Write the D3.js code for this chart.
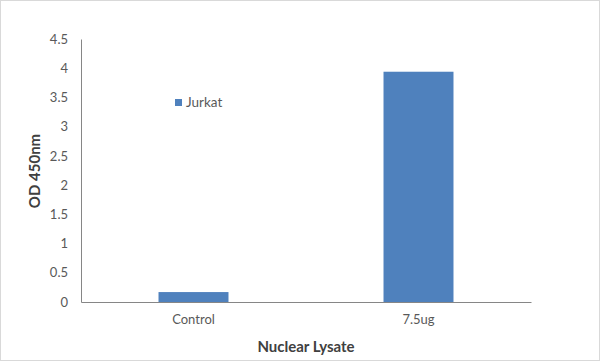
<!DOCTYPE html>
<html><head><meta charset="utf-8">
<script src="https://cdn.jsdelivr.net/npm/d3@7"></script>
<style>body{margin:0;background:#fff}svg{display:block}</style>
</head><body>
<script>
const categories = ["Control", "7.5ug"];
const seriesName = "Jurkat";
const values = [0.17, 3.94];
const yTicks = [0, 0.5, 1, 1.5, 2, 2.5, 3, 3.5, 4, 4.5];

const W = 600, H = 361;
const m = {left: 81, right: 69, top: 39, bottom: 59};
const font = "Lato, 'Open Sans', sans-serif";
const svg = d3.select("body").append("svg").attr("width", W).attr("height", H);
svg.append("rect").attr("x", 0.5).attr("y", 0.5).attr("width", W - 1).attr("height", H - 1)
  .attr("fill", "#fff").attr("stroke", "#d9d9d9");

const x = d3.scaleBand().domain(categories).range([m.left, W - m.right]).padding(0);
const y = d3.scaleLinear().domain([0, 4.5]).range([H - m.bottom, m.top]);
const bw = x.bandwidth() * 0.311;

svg.selectAll("rect.bar").data(values).enter().append("rect").attr("class", "bar")
  .attr("x", (d, i) => x(categories[i]) + x.bandwidth() / 2 - bw / 2)
  .attr("width", bw)
  .attr("y", d => y(d))
  .attr("height", d => y(0) - y(d))
  .attr("fill", "#4f81bd");

// y axis
const yAx = svg.append("g").attr("transform", `translate(${m.left},0)`)
  .call(d3.axisLeft(y).tickValues(yTicks).tickSize(0).tickPadding(13).tickFormat(d3.format("")));
yAx.select(".domain").attr("stroke", "#868686");
yAx.selectAll("text").attr("font-family", font).attr("font-size", 13).attr("fill", "#595959");

// x axis
const xAx = svg.append("g").attr("transform", `translate(0,${y(0)})`)
  .call(d3.axisBottom(x).tickSize(0).tickPadding(13));
xAx.select(".domain").attr("stroke", "#868686");
xAx.selectAll("text").attr("font-family", font).attr("font-size", 13).attr("fill", "#595959");

// titles
svg.append("text").attr("x", (m.left + W - m.right) / 2).attr("y", 352)
  .attr("text-anchor", "middle").attr("font-family", font).attr("font-weight", "bold")
  .attr("font-size", 15).attr("fill", "#404040").text("Nuclear Lysate");
svg.append("text").attr("transform", "translate(40,171) rotate(-90)")
  .attr("text-anchor", "middle").attr("font-family", font).attr("font-weight", "bold")
  .attr("font-size", 15).attr("fill", "#404040").text("OD 450nm");

// legend
svg.append("rect").attr("x", 175).attr("y", 99).attr("width", 7).attr("height", 7).attr("fill", "#4f81bd");
svg.append("text").attr("x", 186).attr("y", 107).attr("font-family", font).attr("font-size", 13.5)
  .attr("fill", "#595959").text(seriesName);
</script>
</body></html>
